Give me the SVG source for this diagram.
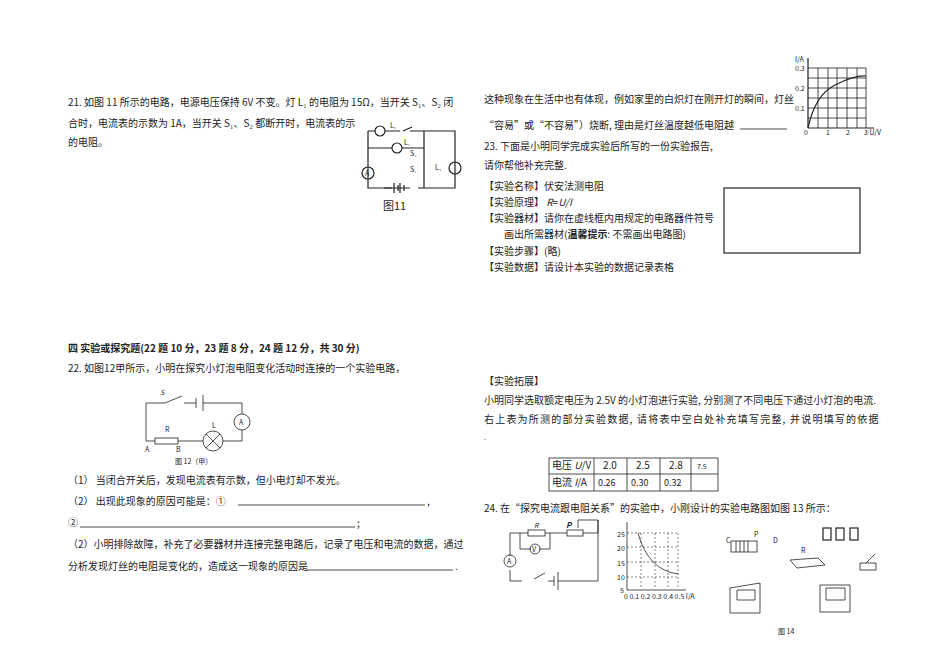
<svg xmlns="http://www.w3.org/2000/svg" width="950" height="671" viewBox="0 0 950 671">
<style>
text{font-family:"Noto Sans CJK SC","Liberation Serif",serif;font-size:10px;fill:#222}
.b{font-weight:bold}
.s{font-size:7px}
.w{fill:none;stroke:#222;stroke-width:1.2}
.t{fill:none;stroke:#222;stroke-width:0.8}
.g{fill:none;stroke:#333;stroke-width:0.6;stroke-dasharray:2 2}
</style>
<rect width="950" height="671" fill="#fff"/>
<g id="q21">
<text x="68" y="106">21.  如图 11 所示的电路，电源电压保持 6V 不变。灯 L₁ 的电阻为 15Ω，当开关 S₁、S₂ 闭</text>
<text x="68" y="127">合时，电流表的示数为 1A，当开关 S₁、S₂ 都断开时，电流表的示</text>
<text x="68" y="146">的电阻。</text>
</g>
<g id="fig11">
<path class="w" d="M368 131H375M385 131H400M412 127L403 131M410 131H455V188H418M410 188H368V131M368 148H392M402 148H424M424 131V188M368 148V166M368 180V188M455 148V160M455 175V188"/>
<circle class="w" cx="380" cy="131" r="5"/><circle class="w" cx="397" cy="148" r="5"/><circle class="w" cx="455" cy="168" r="6"/><circle class="w" cx="368" cy="173" r="6"/>
<path class="w" d="M384 188H392M394 183V193M398 185V191M400 183V193M404 185V191"/>
<text x="365" y="176" class="s">A</text><text x="390" y="128" class="s">L₂</text><text x="404" y="145" class="s">L₁</text><text x="410" y="156" class="s">S₂</text><text x="410" y="172" class="s">S₁</text><text x="435" y="170" class="s">L₃</text>
<text x="383" y="210" style="font-size:11px">图11</text>
</g>
<g id="q22text">
<text x="484" y="103">这种现象在生活中也有体现，例如家里的白炽灯在刚开灯的瞬间，灯丝</text>
<text x="484" y="129">“容易”或“不容易”）烧断, 理由是灯丝温度越低电阻越</text>
<path class="t" d="M740 129H787"/>
<text x="484" y="150">23.  下面是小明同学完成实验后所写的一份实验报告,</text>
<text x="484" y="169">请你帮他补充完整.</text>
<text x="484" y="190">【实验名称】伏安法测电阻</text>
<text x="484" y="206">【实验原理】  <tspan font-style="italic">R</tspan>=<tspan font-style="italic">U/I</tspan></text>
<text x="484" y="222">【实验器材】请你在虚线框内用规定的电路器件符号</text>
<text x="504" y="238">画出所需器材(<tspan class="b">温馨提示</tspan>: 不需画出电路图)</text>
<text x="484" y="255">【实验步骤】(略)</text>
<text x="484" y="271">【实验数据】请设计本实验的数据记录表格</text>
<rect x="724" y="188" width="136" height="65" class="w"/>
</g>
<g id="graphIU">
<path class="t" d="M808 68H866M808 78H866M808 88H866M808 98H866M808 108H866M808 118H866M818 68V128M828 68V128M837 68V128M847 68V128M857 68V128M866 68V128"/>
<path class="w" d="M808 128V58M808 128H874"/>
<path class="w" d="M808 128Q815 95 835 85T866 76"/>
<text x="795" y="62" class="s">I/A</text><text x="795" y="71" class="s">0.3</text><text x="795" y="91" class="s">0.2</text><text x="795" y="111" class="s">0.1</text>
<text x="804" y="135" class="s">0</text><text x="826" y="135" class="s">1</text><text x="846" y="135" class="s">2</text><text x="864" y="135" class="s">3 U/V</text>
</g>
<g id="q22">
<text x="68" y="352" class="b">四  实验或探究题(22 题 10 分，23 题 8 分，24 题 12 分，共 30 分)</text>
<text x="68" y="372">22. 如图12甲所示，小明在探究小灯泡电阻变化活动时连接的一个实验电路，</text>
<path class="t" d="M146 403H165L182 396M184 403H196M196 398V408M203 395V411M203 403H242V414M242 430V441H223M203 441H178M155 441H146V403"/>
<rect x="155" y="438" width="23" height="6" class="t"/>
<circle class="t" cx="213" cy="441" r="10"/><path class="t" d="M206 434L220 448M220 434L206 448"/>
<circle class="t" cx="242" cy="422" r="8"/>
<text x="239" y="425" class="s">A</text><text x="160" y="395" class="s" font-style="italic">S</text><text x="165" y="432" class="s">R</text><text x="212" y="428" class="s">L</text>
<text x="145" y="452" class="s">A</text><text x="176" y="452" class="s">B</text><text x="175" y="464" class="s">图 12（甲）</text>
<text x="68" y="484">（1）      当闭合开关后，发现电流表有示数，但小电灯却不发光。</text>
<text x="68" y="505">（2）      出现此现象的原因可能是：①</text>
<path class="t" d="M238 505H425"/><text x="427" y="505">,</text>
<text x="68" y="526">②</text><path class="t" d="M80 527H355"/><text x="357" y="527">;</text>
<text x="68" y="548">（2）小明排除故障，补充了必要器材并连接完整电路后，记录了电压和电流的数据，通过</text>
<text x="68" y="570">分析发现灯丝的电阻是变化的，造成这一现象的原因是</text>
<path class="t" d="M306 570H453"/><text x="455" y="570">.</text>
</g>
<g id="ext">
<text x="484" y="385">【实验拓展】</text>
<text x="484" y="404">小明同学选取额定电压为 2.5V 的小灯泡进行实验, 分别测了不同电压下通过小灯泡的电流.</text>
<text x="484" y="423" letter-spacing="1.2">右上表为所测的部分实验数据, 请将表中空白处补充填写完整, 并说明填写的依据</text>
<text x="484" y="440" class="s">.</text>
</g>
<g id="table">
<rect x="549" y="458" width="169" height="33" class="t"/>
<path class="t" d="M549 474H718M594 458V491M627 458V491M660 458V491M691 458V491"/>
<text x="552" y="469">电压 <tspan font-style="italic">U</tspan>/V</text><text x="603" y="469">2.0</text><text x="636" y="469">2.5</text><text x="669" y="469">2.8</text><text x="697" y="469" class="s">7.5</text>
<text x="552" y="486">电流 <tspan font-style="italic">I</tspan>/A</text><text x="598" y="486" style="font-size:9px">0.26</text><text x="631" y="486" style="font-size:9px">0.30</text><text x="664" y="486" style="font-size:9px">0.32</text>
</g>
<g id="q24">
<text x="484" y="512">24.  在“探究电流跟电阻关系”的实验中，小刚设计的实验电路图如图 13 所示：</text>
<path class="t" d="M510 556V533H528M545 533H567M583 533H598V520H578V528M510 570V581H522M534 579L545 573M548 581H554M554 576V586M558 572V590M558 581H598V520"/>
<rect x="528" y="530" width="17" height="6" class="t"/><rect x="567" y="530" width="16" height="6" class="t"/>
<path class="t" d="M520 533V549H531M539 549H550V533"/>
<circle class="t" cx="535" cy="549" r="5"/><circle class="t" cx="510" cy="561" r="6"/>
<text x="532" y="552" class="s">V</text><text x="507" y="564" class="s">A</text><text x="534" y="528" class="s" font-style="italic">R</text><text x="566" y="528" font-style="italic" class="b" style="font-size:8px">P</text>
<path class="g" d="M627 533H678M627 547H678M627 562H678M627 577H678M641 533V588M655 533V588M668 533V588M678 533V588"/>
<path class="t" d="M627 590V522M627 590H686"/>
<path class="t" d="M638 533Q648 570 678 574"/>
<text x="617" y="537" class="s">25</text><text x="617" y="551" class="s">20</text><text x="617" y="566" class="s">15</text><text x="617" y="580" class="s">10</text><text x="620" y="593" class="s">5</text>
<text x="624" y="599" class="s">0  0.1 0.2 0.3 0.4 0.5 I/A</text>
</g>
<g id="fig14">
<rect x="731" y="541" width="26" height="11" class="t"/><path class="t" d="M736 541V552M740 541V552M744 541V552M748 541V552"/>
<text x="726" y="543" class="s">C</text><text x="754" y="537" class="s">P</text><text x="773" y="543" class="s">D</text>
<rect x="823" y="528" width="8" height="12" class="w"/><rect x="836" y="528" width="8" height="12" class="w"/><rect x="850" y="528" width="8" height="12" class="w"/>
<path class="t" d="M790 560L818 558L825 565L797 568Z"/><text x="801" y="553" class="s">R</text>
<path class="t" d="M860 563H876V570H860ZM866 563L875 554"/>
<path class="t" d="M730 588L760 583V613H730Z M737 590H755V600H737Z"/>
<path class="t" d="M820 585H850V612H820Z M826 588H845V600H826Z"/>
<text x="778" y="634" class="s">图 14</text>
</g>
</svg>
